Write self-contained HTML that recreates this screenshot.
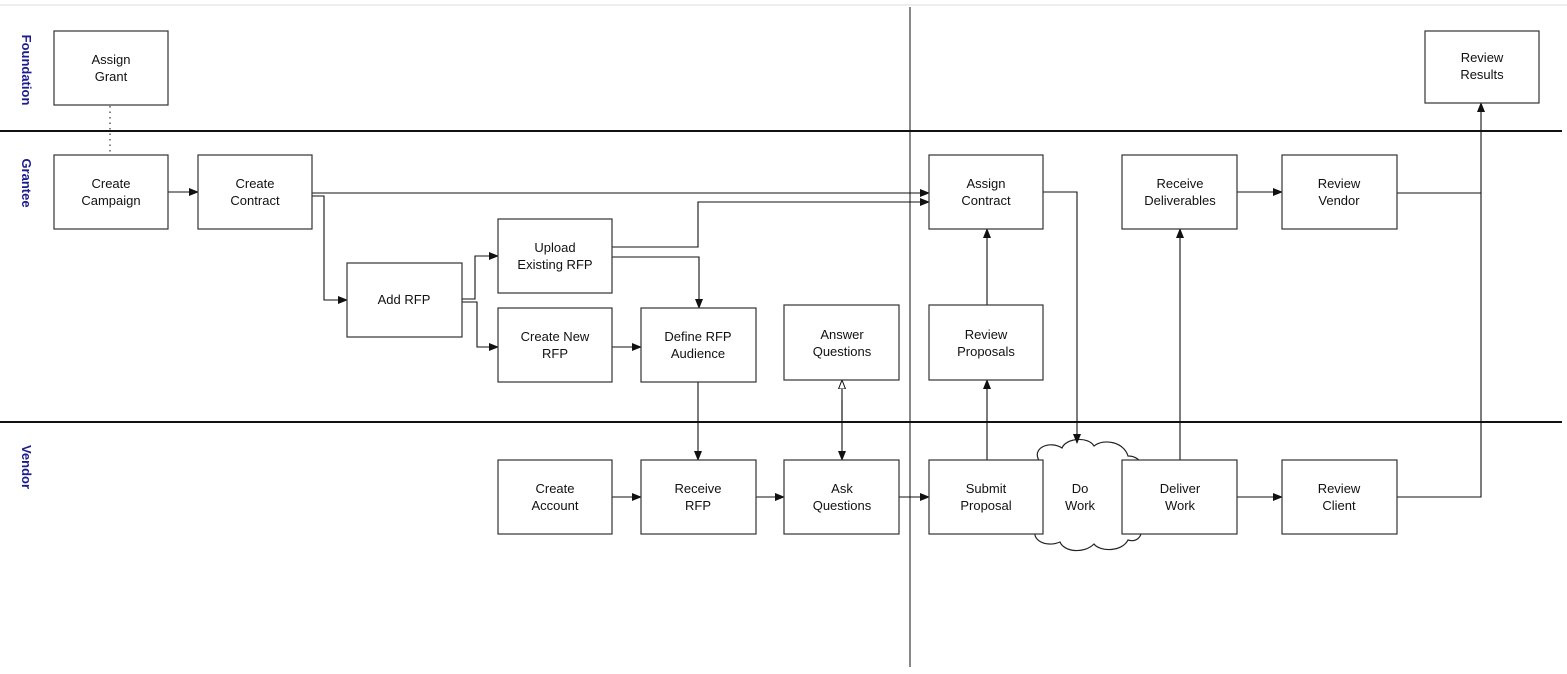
<!DOCTYPE html>
<html><head><meta charset="utf-8"><style>
html,body{margin:0;padding:0;background:#fff;}
svg{display:block;font-family:"Liberation Sans",Arial,sans-serif;}
.b{fill:#fff;stroke:#333;stroke-width:1.2}
.t{font-size:13px;fill:#111;text-anchor:middle}
.l{stroke:#111;stroke-width:1.1;fill:none}
.lane{font-size:13px;font-weight:bold;fill:#1c1c8e;text-anchor:middle}
</style></head><body>
<svg width="1567" height="674" viewBox="0 0 1567 674">
<defs>
<marker id="a" markerWidth="10" markerHeight="8" refX="9" refY="4" orient="auto" markerUnits="userSpaceOnUse"><path d="M0,0L10,4L0,8z" fill="#111"/></marker>
<marker id="o" markerWidth="10" markerHeight="8" refX="9" refY="4" orient="auto" markerUnits="userSpaceOnUse"><path d="M0,0.5L9,4L0,7.5z" fill="#fff" stroke="#111"/></marker>
</defs>
<line x1="0" y1="5" x2="1567" y2="5" stroke="#ddd" stroke-width="1"/>
<line x1="0" y1="131" x2="1562" y2="131" stroke="#111" stroke-width="2"/>
<line x1="0" y1="422" x2="1562" y2="422" stroke="#111" stroke-width="2"/>
<line x1="910" y1="7" x2="910" y2="667" stroke="#111" stroke-width="1"/>
<text class="lane" transform="translate(22,70) rotate(90)">Foundation</text>
<text class="lane" transform="translate(22,183) rotate(90)">Grantee</text>
<text class="lane" transform="translate(22,467) rotate(90)">Vendor</text>

<!-- cloud -->
<path d="M1040,462 C1030,448 1050,440 1062,448 C1066,438 1088,436 1094,446 C1104,438 1124,442 1128,456 C1142,456 1146,470 1138,478 L1138,520 C1146,530 1140,544 1128,540 C1122,552 1100,552 1094,544 C1084,554 1064,552 1060,542 C1046,548 1030,540 1036,528 Z" fill="#fff" stroke="#222" stroke-width="1.2"/>

<!-- connectors -->
<line x1="110" y1="106" x2="110" y2="155" stroke="#333" stroke-width="1.2" stroke-dasharray="1.5,4"/>
<path class="l" d="M168,192H198" marker-end="url(#a)"/>
<path class="l" d="M312,193H929" marker-end="url(#a)"/>
<path class="l" d="M312,196H324V300H347" marker-end="url(#a)"/>
<path class="l" d="M462,299H475V256H498" marker-end="url(#a)"/>
<path class="l" d="M462,302H477V347H498" marker-end="url(#a)"/>
<path class="l" d="M612,247H698V202H929" marker-end="url(#a)"/>
<path class="l" d="M612,257H699V308" marker-end="url(#a)"/>
<path class="l" d="M612,347H641" marker-end="url(#a)"/>
<path class="l" d="M698,382V460" marker-end="url(#a)"/>
<path class="l" d="M842,400V460" marker-end="url(#a)"/>
<path class="l" d="M842,420V380" marker-end="url(#o)"/>
<path class="l" d="M612,497H641" marker-end="url(#a)"/>
<path class="l" d="M756,497H784" marker-end="url(#a)"/>
<path class="l" d="M899,497H929" marker-end="url(#a)"/>
<path class="l" d="M987,460V380" marker-end="url(#a)"/>
<path class="l" d="M987,305V229" marker-end="url(#a)"/>
<path class="l" d="M1043,192H1077V443" marker-end="url(#a)"/>
<path class="l" d="M1180,460V229" marker-end="url(#a)"/>
<path class="l" d="M1237,192H1282" marker-end="url(#a)"/>
<path class="l" d="M1237,497H1282" marker-end="url(#a)"/>
<path class="l" d="M1397,193H1481V103" marker-end="url(#a)"/>
<path class="l" d="M1397,497H1481V193"/>

<!-- boxes -->
<g>
<rect class="b" x="54" y="31" width="114" height="74"/><text class="t" x="111" y="64">Assign</text><text class="t" x="111" y="81">Grant</text>
<rect class="b" x="54" y="155" width="114" height="74"/><text class="t" x="111" y="188">Create</text><text class="t" x="111" y="205">Campaign</text>
<rect class="b" x="198" y="155" width="114" height="74"/><text class="t" x="255" y="188">Create</text><text class="t" x="255" y="205">Contract</text>
<rect class="b" x="347" y="263" width="115" height="74"/><text class="t" x="404" y="304">Add RFP</text>
<rect class="b" x="498" y="219" width="114" height="74"/><text class="t" x="555" y="252">Upload</text><text class="t" x="555" y="269">Existing RFP</text>
<rect class="b" x="498" y="308" width="114" height="74"/><text class="t" x="555" y="341">Create New</text><text class="t" x="555" y="358">RFP</text>
<rect class="b" x="641" y="308" width="115" height="74"/><text class="t" x="698" y="341">Define RFP</text><text class="t" x="698" y="358">Audience</text>
<rect class="b" x="784" y="305" width="115" height="75"/><text class="t" x="842" y="339">Answer</text><text class="t" x="842" y="356">Questions</text>
<rect class="b" x="929" y="155" width="114" height="74"/><text class="t" x="986" y="188">Assign</text><text class="t" x="986" y="205">Contract</text>
<rect class="b" x="929" y="305" width="114" height="75"/><text class="t" x="986" y="339">Review</text><text class="t" x="986" y="356">Proposals</text>
<rect class="b" x="1122" y="155" width="115" height="74"/><text class="t" x="1180" y="188">Receive</text><text class="t" x="1180" y="205">Deliverables</text>
<rect class="b" x="1282" y="155" width="115" height="74"/><text class="t" x="1339" y="188">Review</text><text class="t" x="1339" y="205">Vendor</text>
<rect class="b" x="1425" y="31" width="114" height="72"/><text class="t" x="1482" y="62">Review</text><text class="t" x="1482" y="79">Results</text>
<rect class="b" x="498" y="460" width="114" height="74"/><text class="t" x="555" y="493">Create</text><text class="t" x="555" y="510">Account</text>
<rect class="b" x="641" y="460" width="115" height="74"/><text class="t" x="698" y="493">Receive</text><text class="t" x="698" y="510">RFP</text>
<rect class="b" x="784" y="460" width="115" height="74"/><text class="t" x="842" y="493">Ask</text><text class="t" x="842" y="510">Questions</text>
<rect class="b" x="929" y="460" width="114" height="74"/><text class="t" x="986" y="493">Submit</text><text class="t" x="986" y="510">Proposal</text>
<text class="t" x="1080" y="493">Do</text><text class="t" x="1080" y="510">Work</text>
<rect class="b" x="1122" y="460" width="115" height="74"/><text class="t" x="1180" y="493">Deliver</text><text class="t" x="1180" y="510">Work</text>
<rect class="b" x="1282" y="460" width="115" height="74"/><text class="t" x="1339" y="493">Review</text><text class="t" x="1339" y="510">Client</text>
</g>
</svg>
</body></html>
